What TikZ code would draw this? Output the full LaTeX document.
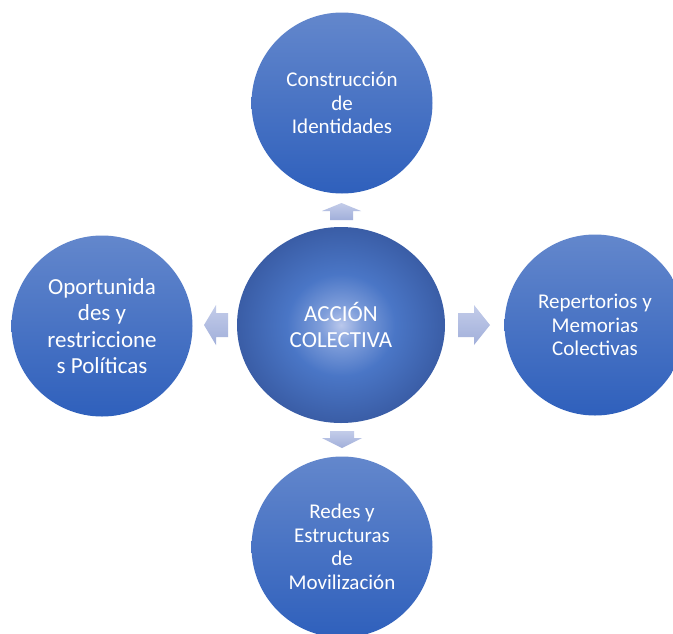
\documentclass[tikz,border=0pt]{standalone}
\usepackage{fontspec}
\setmainfont{Carlito}
\usetikzlibrary{shapes.geometric}
\definecolor{ctop}{HTML}{6387CC}
\definecolor{cbot}{HTML}{2F60BC}
\definecolor{cgA}{HTML}{BAC8EC}
\definecolor{cgM}{HTML}{7E9DDA}
\definecolor{cgB}{HTML}{4A76C6}
\definecolor{cgC}{HTML}{3A5DA6}
\definecolor{arA}{HTML}{C3CCE9}
\definecolor{arB}{HTML}{A1AFDA}
\pgfdeclareradialshading{cglow}{\pgfpoint{0bp}{0bp}}{color(0bp)=(cgA); color(5bp)=(cgM); color(13bp)=(cgB); color(25bp)=(cgC); color(50bp)=(cgC)}
\tikzset{
  outer/.style={circle, inner sep=0pt, minimum size=181pt, top color=ctop, bottom color=cbot, draw=none,
    text=white, align=center, font=\fontsize{21}{23.5}\selectfont},
  bigtext/.style={font=\fontsize{23}{26.5}\selectfont},
  hub/.style={ellipse, inner sep=0pt, minimum width=208pt, minimum height=196pt, shading=cglow, draw=none,
    text=white, align=center, font=\fontsize{23}{26.5}\selectfont},
  blockarrow/.style={top color=arA, bottom color=arB, draw=none}
}
\begin{document}
\begin{tikzpicture}[x=1pt,y=-1pt]
\useasboundingbox (0,0) rectangle (673,633);
\clip (0,0) rectangle (673,633);
\fill[white] (0,0) rectangle (673,633);
\node[outer] (top) at (342,103) {Construcción\\de\\Identidades};
\node[outer, bigtext] (left) at (102,326) {Oportunida\\des y\\restriccione\\s Políticas};
\node[outer] (right) at (595,325) {Repertorios y\\Memorias\\Colectivas};
\node[outer] (bottom) at (342,547) {Redes y\\Estructuras\\de\\Movilización};
\node[hub] (hub) at (341,325) {ACCIÓN\\COLECTIVA};
% block arrows
\coordinate (tu) at (341.5,203);
\coordinate (td) at (342,448);
\coordinate (tr) at (490,325);
\coordinate (tl) at (204,325);
\path[blockarrow] (tu) -- ++(19.5,8) -- ++(-8,0) -- ++(0,9) -- ++(-23,0) -- ++(0,-9) -- ++(-8,0) -- cycle;
\path[blockarrow] (td) -- ++(20,-10) -- ++(-8,0) -- ++(0,-7) -- ++(-24,0) -- ++(0,7) -- ++(-8,0) -- cycle;
\path[blockarrow] (tr) -- ++(-16,20) -- ++(0,-8) -- ++(-16,0) -- ++(0,-24) -- ++(16,0) -- ++(0,-8) -- cycle;
\path[blockarrow] (tl) -- ++(12,20) -- ++(0,-8) -- ++(12,0) -- ++(0,-24) -- ++(-12,0) -- ++(0,-8) -- cycle;
\end{tikzpicture}
\end{document}
